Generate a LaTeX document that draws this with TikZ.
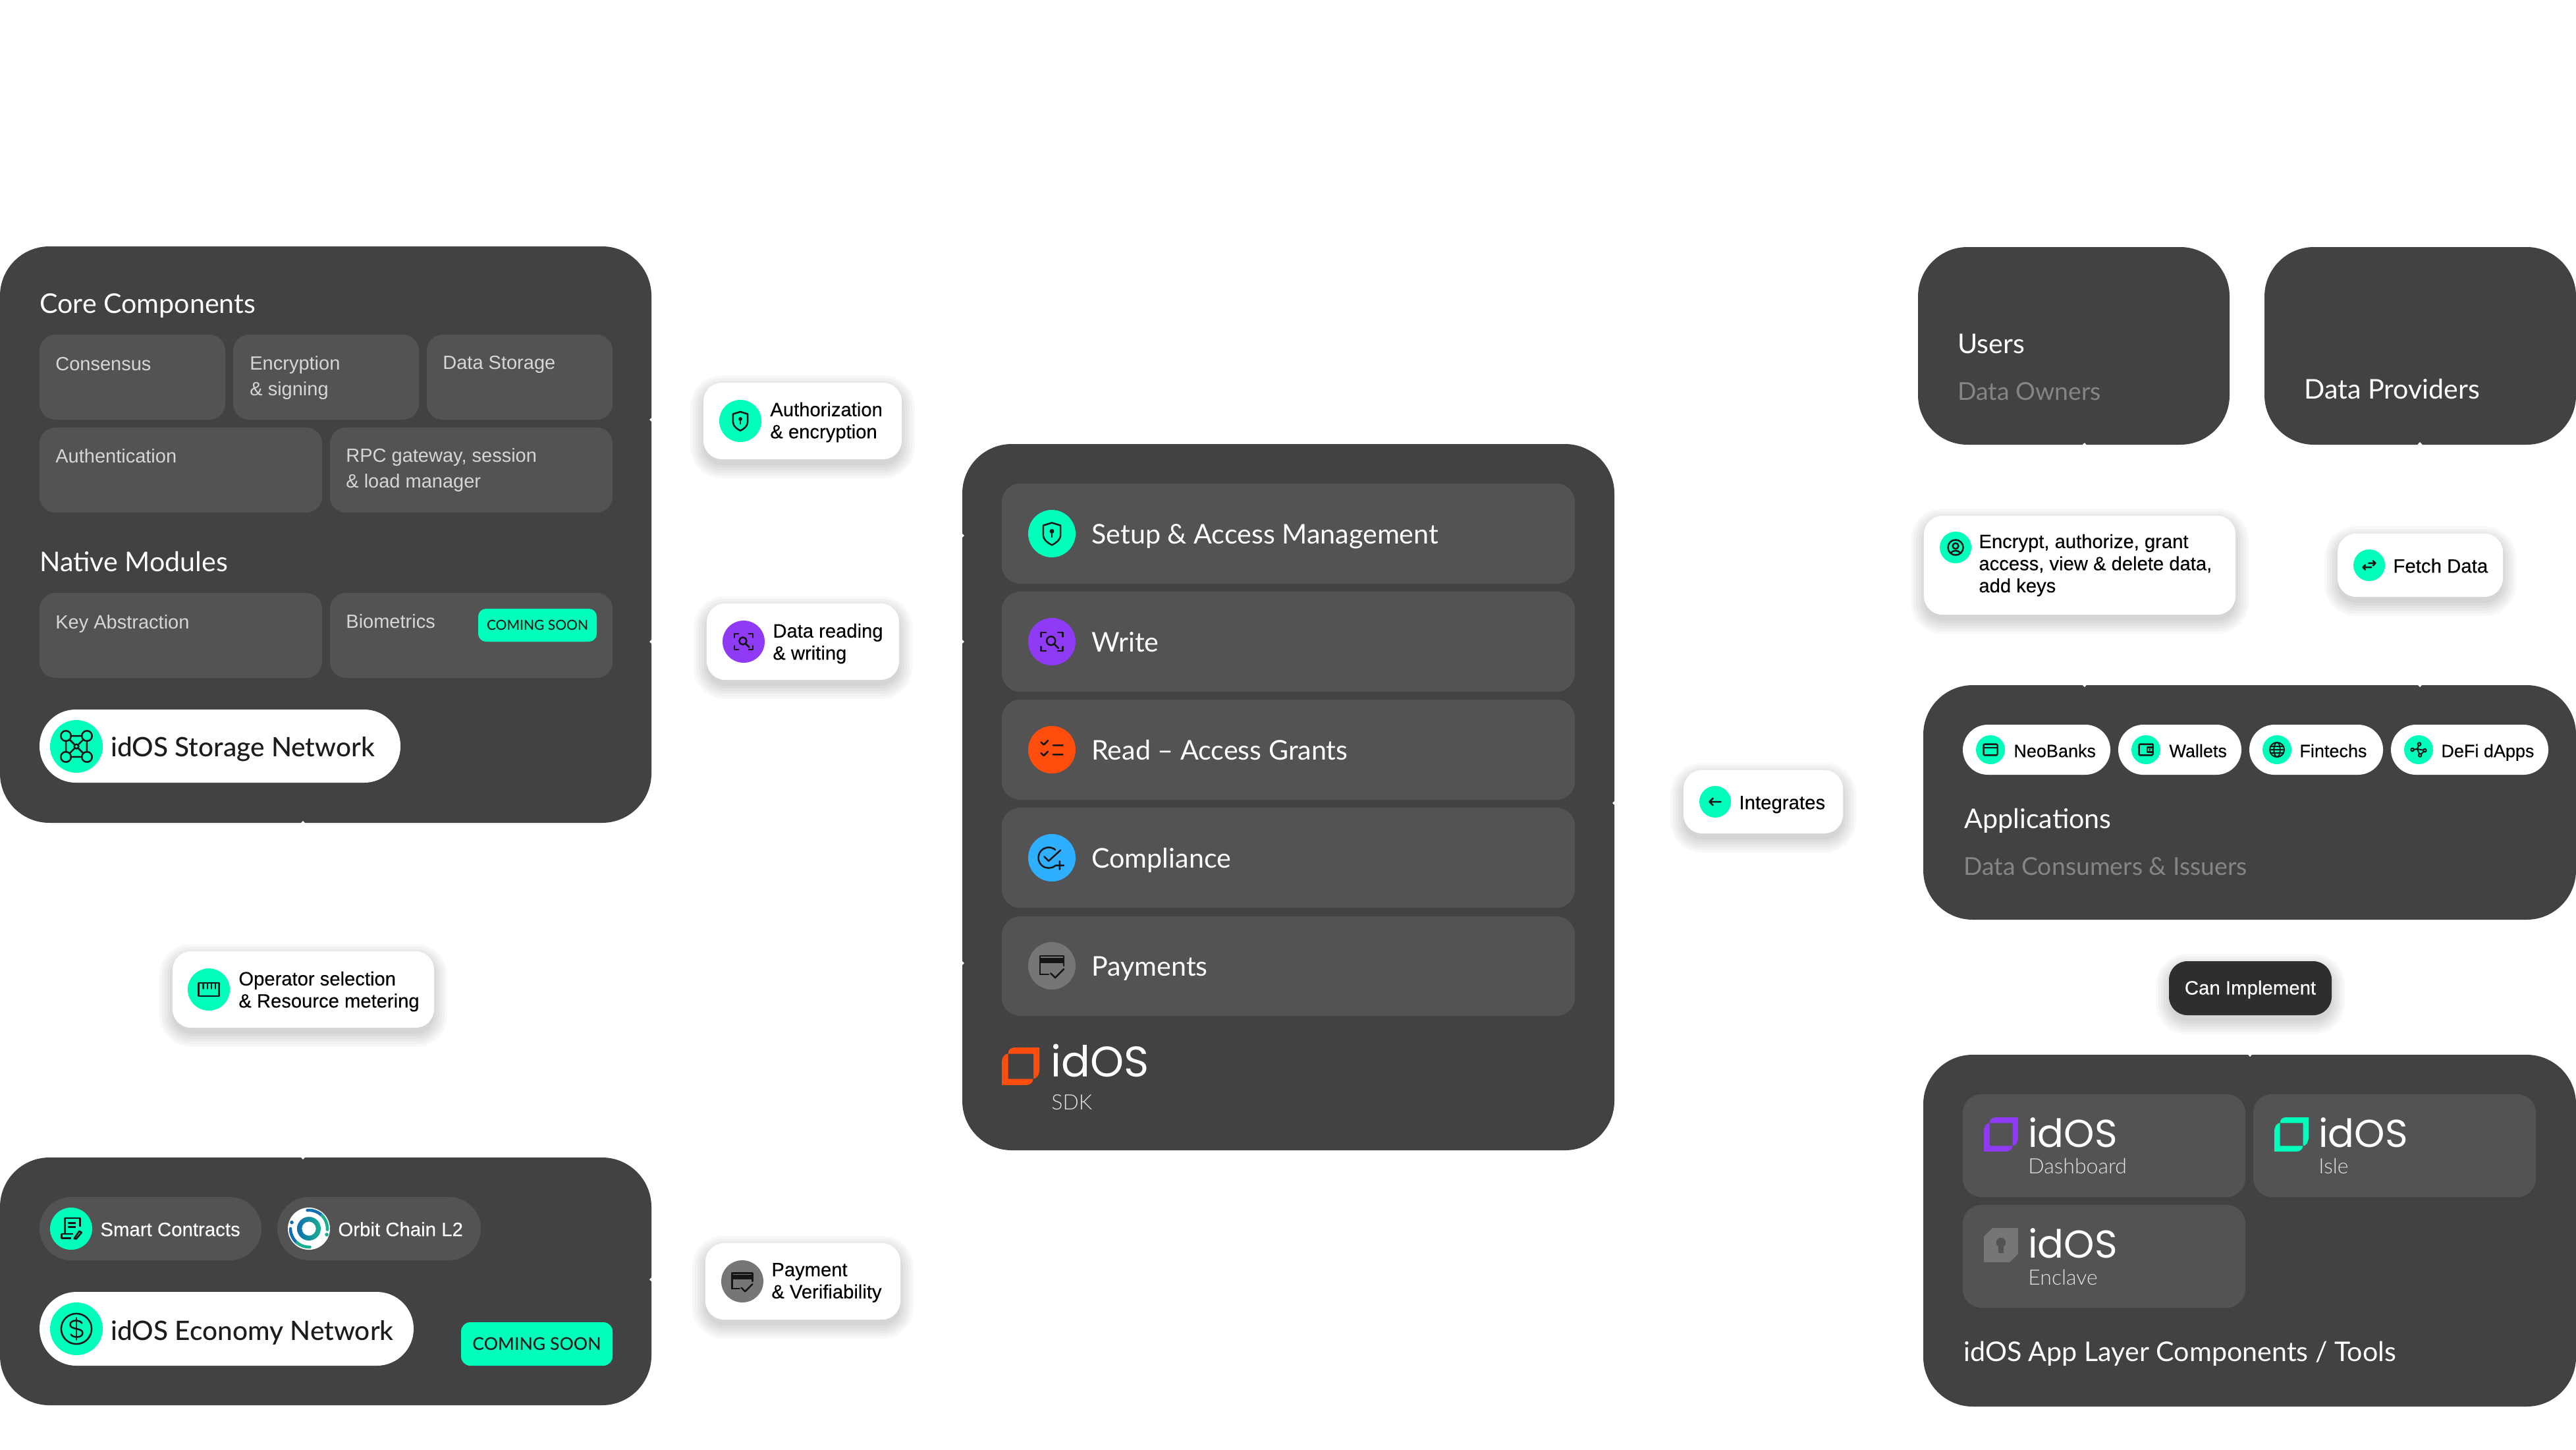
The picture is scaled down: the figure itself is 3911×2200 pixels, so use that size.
\documentclass[tikz,border=0pt]{standalone}
\usepackage{fontspec}
\usetikzlibrary{arrows.meta,backgrounds,calc}
\setmainfont{Liberation Sans}
\newfontfamily\lf{Liberation Sans}[FakeBold=0.25]
\newfontfamily\hf{Lato}
\newfontfamily\hl{Lato Light}
\newfontfamily\hm{Lato Medium}
\newfontfamily\wm{Poppins}
\definecolor{panelc}{HTML}{424242}
\definecolor{boxc}{HTML}{535353}
\definecolor{mint}{HTML}{00FFBB}
\definecolor{violetc}{HTML}{8F3AF5}
\definecolor{orangec}{HTML}{FF4D0D}
\definecolor{bluec}{HTML}{2EAFFF}
\definecolor{grayc}{HTML}{767676}
\definecolor{subc}{HTML}{858585}
\definecolor{icdark}{HTML}{151515}
\definecolor{inkc}{HTML}{1C1C1C}
\definecolor{implc}{HTML}{2E2E2E}
\definecolor{boxtext}{HTML}{D6D6D6}
\definecolor{orbA}{HTML}{0F6FB0}
\definecolor{orbB}{HTML}{18B090}
\pgfdeclarelayer{pan}\pgfdeclarelayer{lnk}
\pgfsetlayers{pan,lnk,main}
\newcommand\fsz[2]{\fontsize{#1}{#2}\selectfont}
% name x1 y1 x2 y2 radius fill
\newcommand\bx[7]{%
  \pgfmathsetmacro\bw{(#4-#2)*.5}\pgfmathsetmacro\bh{(#5-#3)*.5}%
  \pgfmathsetmacro\bcx{(#2+#4)/2}\pgfmathsetmacro\bcy{(#3+#5)/2}%
  \pgfmathsetmacro\br{#6*.5}%
  \node[shape=rectangle,inner sep=0pt,outer sep=0pt,fill=#7,minimum width=\bw pt,minimum height=\bh pt,rounded corners=\br pt] (#1) at (\bcx,\bcy) {};}
\newcommand\shad[5]{%
  \pgfmathsetmacro\br{#5*.5}%
  \foreach \e in {0,4,8,12,16,20}{%
    \fill[black,opacity=.028,rounded corners=\br pt+\e*.5pt] (#1-\e,#2-\e+9) rectangle (#3+\e,#4+\e+9);}}
\newcommand\lb[7]{\shad{#2}{#3}{#4}{#5}{#6}\bx{#1}{#2}{#3}{#4}{#5}{#6}{#7}}
\newcommand\cc[5]{%
  \pgfmathsetmacro\bd{#4}%
  \node[shape=circle,inner sep=0pt,outer sep=0pt,fill=#5,minimum size=\bd pt] (#1) at (#2,#3) {};}
\tikzset{
  x=.5pt,y=-.5pt,
  head/.style={anchor=mid west,inner sep=0pt,text=white,yshift=-5pt,font=\hf\fsz{20.6}{24}},
  pilltext/.style={anchor=mid west,inner sep=0pt,text=inkc,yshift=-5pt,font=\hm\fsz{20.3}{24}},
  sub/.style={anchor=mid west,inner sep=0pt,text=subc,yshift=-5pt,font=\hf\fsz{18.7}{24}},
  boxlab/.style={anchor=west,inner sep=0pt,align=left,text=boxtext,yshift=-1pt,font=\fsz{14.5}{19.5}},
  lab/.style={anchor=west,inner sep=0pt,align=left,text=black,yshift=-1pt,font=\lf\fsz{14.6}{16.8}},
  small/.style={anchor=mid west,inner sep=0pt,text=black,yshift=-3pt,font=\lf\fsz{14.7}{17}},
  badge/.style={inner sep=0pt,text=inkc,font=\hm\fsz{12}{14}},
  wordm/.style={anchor=mid west,inner sep=0pt,text=white,yshift=-7pt,font=\wm\fsz{29.5}{30}},
  wordsub/.style={anchor=mid west,inner sep=0pt,text=boxtext!70!white,yshift=-2.5pt,font=\hl\fsz{16}{18}},
  ic/.style={line width=1.25pt,draw=icdark,line cap=round,line join=round},
  icf/.style={fill=icdark,draw=none},
  hidlink/.style={draw=white,line width=.6pt,-{Triangle[width=4pt,length=2.2pt,fill=white]}},
  hidplain/.style={draw=white,line width=.6pt},
  pics/ishield/.style={code={
    \draw[ic] (0,-10)--(8,-7.5)--(8,1) .. controls (8,6) and (3,9) .. (0,10.5) .. controls (-3,9) and (-8,6) .. (-8,1)--(-8,-7.5)--cycle;
    \fill[icf] (0,-2.2) circle (2.1); \draw[ic] (0,-2)--(0,3.2);}},
  pics/iscan/.style={code={
    \draw[ic] (-10,-4.5)--(-10,-8.5)--(-5.5,-8.5) (5.5,-8.5)--(10,-8.5)--(10,-4.5) (-10,4.5)--(-10,8.5)--(-5.5,8.5) (5.5,8.5)--(10,8.5)--(10,4.5);
    \draw[ic] (-.8,-.8) circle (4); \draw[ic] (2.2,2.2)--(6,6);}},
  pics/ichecks/.style={code={
    \draw[ic] (-10,-7)--(-7.5,-4.5)--(-3.5,-8.5) (-10,3)--(-7.5,5.5)--(-3.5,1.5) (1,-4)--(10,-4) (1,4.5)--(10,4.5);}},
  pics/icomp/.style={code={
    \draw[ic] (3.2,-7.3) arc[start angle=-50,end angle=-310,radius=9.5];
    \draw[ic] (-7,-1)--(-3,3)--(8,-7) (3.5,7)--(11,7) (7.2,3.2)--(7.2,10.8);}},
  pics/ipay/.style={code={
    \draw[ic] (-11,8)--(-11,-9)--(11,-9)--(11,0) (-11,8)--(-3,8);
    \fill[icf] (-11,-7) rectangle (11,-2.5);
    \draw[ic] (-1,7)--(3,11)--(11,3);}},
  pics/iruler/.style={code={
    \draw[ic] (-11,-7) rectangle (11,7);
    \draw[ic] (-6,-7)--(-6,-1) (-1.5,-7)--(-1.5,-1) (3,-7)--(3,-1) (7,-7)--(7,-1);}},
  pics/iuser/.style={code={
    \draw[ic] (0,0) circle (10.5); \draw[ic] (0,-2) circle (4);
    \draw[ic] (-6.5,7.5) .. controls (-4,3.5) and (4,3.5) .. (6.5,7.5);}},
  pics/iswap/.style={code={
    \draw[ic] (-9,3)--(3,3) (-9,3)--(-5.5,6.5) (-9,3)--(-5.5,-.5) (-1,-3)--(9,-3) (9,-3)--(5.5,-6.5) (9,-3)--(5.5,.5);}},
  pics/ileft/.style={code={
    \draw[ic] (9,0)--(-9,0) (-9,0)--(-3.5,-5.5) (-9,0)--(-3.5,5.5);}},
  pics/icard/.style={code={
    \draw[ic,rounded corners=1pt] (-10,-8) rectangle (10,8);
    \draw[ic] (-10,-3)--(10,-3);}},
  pics/iwallet/.style={code={
    \draw[ic,rounded corners=.8pt] (10,-8)--(-10,-8)--(-10,8)--(10,8)--(10,-8);
    \draw[ic] (10,-3.5)--(2,-3.5)--(2,3.5)--(10,3.5);
    \fill[icf] (5.5,0) circle (1.5);}},
  pics/iglobe/.style={code={
    \draw[ic,line width=1pt] (0,0) circle (10.5);
    \draw[ic,line width=1pt] (0,0) ellipse (4.5 and 10.5);
    \draw[ic,line width=1pt] (-10.5,0)--(10.5,0) (-9,-5)--(9,-5) (-9,5)--(9,5);}},
  pics/inet/.style={code={
    \draw[ic,line width=1pt] (-9,0)--(-2,-1)--(1,-8) (-2,-1)--(2,8) (2,8)--(9,1)--(-2,-1);
    \foreach \a/\b in {-9/0,1/-8,2/8,9/1}{\filldraw[ic,line width=1pt,fill=mint] (\a,\b) circle (2.2);}}},
  pics/istorage/.style={code={
    \draw[ic] (-7.6,-3.9)--(-7.6,3.9) (7.6,-3.9)--(7.6,3.9) (-3.9,-7.6)--(3.9,-7.6) (-3.9,7.6)--(3.9,7.6) (-4.9,-4.9)--(-1.2,-1.2) (4.9,-4.9)--(1.2,-1.2) (-4.9,4.9)--(-1.2,1.2) (4.9,4.9)--(1.2,1.2);
    \foreach \a/\b in {-7.6/-7.6,7.6/-7.6,-7.6/7.6,7.6/7.6}{\draw[ic] (\a,\b) circle (3.7);}
    \draw[ic] (0,0) circle (1.6);}},
  pics/icontract/.style={code={
    \draw[ic,line cap=butt] (-6,5)--(-6,-10.3)--(8.6,-10.3)--(8.6,-2) (-3,-5.5)--(4.5,-5.5) (-3,-1.7)--(4.5,-1.7) (-9.5,5)--(2,5) (-9.5,5)--(-9.5,9.3)--(0,9.3);
    \draw[ic] (3,9.6)--(8,2.4)--(10.2,3.8)--(5,10)--cycle;}},
  pics/idollar/.style={code={
    \draw[ic] (0,0) circle (11);
    \draw[ic] (4,-4) .. controls (3,-6.5) and (-4.5,-7) .. (-4.5,-3) .. controls (-4.5,1) and (4.5,-1) .. (4.5,3) .. controls (4.5,7) and (-3,6.5) .. (-4,4);
    \draw[ic] (0,-8)--(0,8);}},
  pics/orbitlogo/.style={code={
    \shade[left color=orbA,right color=orbB,even odd rule] (0,0) circle (18) (0,0) circle (10.7);
    \draw[line width=2.3pt,draw=orbA,line cap=round] (-2.4,-27.9) arc[start angle=-95,end angle=-45,radius=28];
    \draw[line width=2.3pt,draw=orbB,line cap=round] (19.8,-19.8) arc[start angle=-45,end angle=3,radius=28];
    \draw[line width=2.3pt,draw=orbA,line cap=round] (-28,0) arc[start angle=180,end angle=130,radius=28];
    \draw[line width=2.3pt,draw=orbB,line cap=round] (-18,21.4) arc[start angle=130,end angle=87,radius=28];
    \fill[orbA] (-26,-9.5) circle (2.8); \fill[orbB] (27,9) circle (2.8);}},
  pics/idlogo/.style={code={
    \fill[#1,even odd rule] (0,57)--(0,24) .. controls (0,15) and (4,9.5) .. (9.5,9.5) .. controls (9.5,3) and (14,0) .. (20,0)--(57,0)--(57,33) .. controls (57,42) and (53,47.5) .. (47.5,47.5) .. controls (47.5,53) and (43,57) .. (37,57)--cycle
      (9.5,9.5) rectangle (48,47.5);}},
  pics/enclogo/.style={code={
    \fill[grayc] (0,13)--(13,0)--(52,0)--(52,39)--(39,52)--(0,52)--cycle;
    \fill[boxc] (26,22) circle (7.3);
    \fill[boxc] (22,24) rectangle (30,38);}},
}
\begin{document}
\begin{tikzpicture}
\useasboundingbox (0,0) rectangle (3911,2200);
% ------- panels
\begin{pgfonlayer}{pan}
\fill[white] (0,0) rectangle (3911,2200);
\bx{storage}{0}{374}{989}{1249}{75}{panelc}
\bx{economy}{0}{1757}{989}{2133}{75}{panelc}
\bx{sdk}{1461}{674}{2451}{1746}{75}{panelc}
\bx{users}{2912}{375}{3385}{675}{75}{panelc}
\bx{providers}{3438}{375}{3911}{675}{75}{panelc}
\bx{apps}{2920}{1040}{3911}{1396}{75}{panelc}
\bx{layer}{2920}{1601}{3911}{2135}{75}{panelc}
\end{pgfonlayer}
% ------- storage panel
\node[head] (tcore) at (60,460) {Core Components};
\bx{bcons}{60}{508}{342}{637}{24}{boxc}
\bx{benc}{354}{508}{636}{637}{24}{boxc}
\bx{bdata}{648}{508}{930}{637}{24}{boxc}
\bx{bauth}{60}{649}{489}{778}{24}{boxc}
\bx{brpc}{501}{649}{930}{778}{24}{boxc}
\node[boxlab] (tcons) at (84,551) {Consensus};
\node[boxlab] (tenc) at (379,571) {Encryption\\\& signing};
\node[boxlab] (tdata) at (672,551) {Data Storage};
\node[boxlab] (tauth) at (84,690) {Authentication};
\node[boxlab] (trpc) at (525,711) {RPC gateway, session\\\& load manager};
\node[head] (tnative) at (60,852) {Native Modules};
\bx{bkey}{60}{900}{489}{1029}{24}{boxc}
\bx{bbio}{501}{900}{930}{1029}{24}{boxc}
\node[boxlab] (tkey) at (84,945) {Key Abstraction};
\node[boxlab] (tbio) at (525,941) {Biometrics};
\bx{soon1}{726}{924}{906}{974}{12}{mint}
\node[badge,font=\hm\fsz{10.5}{12}] (tsoon1) at (soon1) {COMING SOON};
\bx{pstorage}{60}{1077}{608}{1188}{55}{white}
\cc{cstorage}{116}{1133}{40}{mint}
\pic[scale=2.1] at (116,1133) {istorage};
\node[pilltext] (tstorage) at (168,1133) {idOS Storage Network};
% ------- economy panel
\bx{psmart}{60}{1817}{397}{1913}{48}{boxc}
\cc{csmart}{108}{1865}{32}{mint}
\pic[scale=1.55] at (108,1865) {icontract};
\node[small,text=white] (tsmart) at (152,1865) {Smart Contracts};
\bx{porbit}{421}{1817}{730}{1913}{48}{boxc}
\cc{corbit}{469}{1865}{32}{white}
\pic at (469,1865) {orbitlogo};
\node[small,text=white] (torbit) at (513,1865) {Orbit Chain L2};
\bx{peco}{60}{1961}{628}{2073}{56}{white}
\cc{ceco}{116}{2017}{40}{mint}
\pic[scale=2.1] at (116,2017) {idollar};
\node[pilltext] (teco) at (168,2019) {idOS Economy Network};
\bx{soon2}{700}{2007}{930}{2073}{14}{mint}
\node[badge,font=\hm\fsz{13.3}{16}] (tsoon2) at (soon2) {COMING SOON};
% ------- SDK panel
\bx{r1}{1521}{734}{2391}{886}{28}{boxc}
\bx{r2}{1521}{898}{2391}{1050}{28}{boxc}
\bx{r3}{1521}{1062}{2391}{1214}{28}{boxc}
\bx{r4}{1521}{1226}{2391}{1378}{28}{boxc}
\bx{r5}{1521}{1391}{2391}{1542}{28}{boxc}
\cc{c1}{1597}{810}{36}{mint}
\cc{c2}{1597}{974}{36}{violetc}
\cc{c3}{1597}{1138}{36}{orangec}
\cc{c4}{1597}{1302}{36}{bluec}
\cc{c5}{1597}{1466}{36}{grayc}
\pic[scale=1.65] at (1597,810) {ishield};
\pic[scale=1.65] at (1597,974) {iscan};
\pic[scale=1.65] at (1597,1138) {ichecks};
\pic[scale=1.65] at (1597,1302) {icomp};
\pic[scale=1.65] at (1597,1466) {ipay};
\node[head] (t1) at (1657,810) {Setup \& Access Management};
\node[head] (t2) at (1657,974) {Write};
\node[head] (t3) at (1657,1138) {Read – Access Grants};
\node[head] (t4) at (1657,1302) {Compliance};
\node[head] (t5) at (1657,1466) {Payments};
\pic at (1521,1590) {idlogo=orangec};
\node[wordm,font=\wm\fsz{32.5}{34}] (tsdk) at (1595,1615) {idOS};
\node[wordsub] (tsdk2) at (1596,1674) {SDK};
% ------- right upper panels
\node[head] (tusers) at (2972,521) {Users};
\node[sub] (towners) at (2972,592) {Data Owners};
\node[head] (tprov) at (3498,590) {Data Providers};
\bx{pneo}{2980}{1100}{3204}{1176}{38}{white}
\bx{pwal}{3216}{1100}{3403}{1176}{38}{white}
\bx{pfin}{3415}{1100}{3618}{1176}{38}{white}
\bx{pdefi}{3630}{1100}{3869}{1176}{38}{white}
\cc{cneo}{3022}{1138}{22}{mint}
\cc{cwal}{3258}{1138}{22}{mint}
\cc{cfin}{3457}{1138}{22}{mint}
\cc{cdefi}{3672}{1138}{22}{mint}
\pic[scale=1.05] at (3022,1138) {icard};
\pic[scale=1.05] at (3258,1138) {iwallet};
\pic[scale=1.05] at (3457,1138) {iglobe};
\pic[scale=1.05] at (3672,1138) {inet};
\node[small,font=\lf\fsz{13.5}{16}] (tneo) at (3057,1138) {NeoBanks};
\node[small,font=\lf\fsz{13.5}{16}] (twal) at (3293,1138) {Wallets};
\node[small,font=\lf\fsz{13.5}{16}] (tfin) at (3491,1138) {Fintechs};
\node[small,font=\lf\fsz{13.5}{16}] (tdefi) at (3706,1138) {DeFi dApps};
\node[head] (tappl) at (2982,1242) {Applications};
\node[sub] (tcons2) at (2981,1313) {Data Consumers \& Issuers};
% ------- layer panel
\bx{bdash}{2980}{1661}{3409}{1817}{28}{boxc}
\bx{bisle}{3421}{1661}{3850}{1817}{28}{boxc}
\bx{bencl}{2980}{1829}{3409}{1985}{28}{boxc}
\pic[scale=.91] at (3012,1696) {idlogo=violetc};
\pic[scale=.91] at (3453,1696) {idlogo=mint};
\pic at (3012,1864) {enclogo};
\node[wordm] (wdash) at (3079,1722) {idOS};
\node[wordm] (wisle) at (3520,1722) {idOS};
\node[wordm] (wencl) at (3079,1890) {idOS};
\node[wordsub] (tdash) at (3079,1771) {Dashboard};
\node[wordsub] (tisle) at (3520,1771) {Isle};
\node[wordsub] (tencl) at (3079,1940) {Enclave};
\node[head] (tlayer) at (2981,2051) {idOS App Layer Components / Tools};
% ------- floating labels
\lb{auth}{1068}{581}{1369}{697}{28}{white}
\cc{cauth}{1124}{639}{32}{mint}
\pic[scale=1.4] at (1124,639) {ishield};
\node[lab] (tauthl) at (1169,639) {Authorization\\\& encryption};
\lb{dataL}{1073}{916}{1365}{1032}{28}{white}
\cc{cdataL}{1129}{974}{32}{violetc}
\pic[scale=1.4] at (1129,974) {iscan};
\node[lab] (tdataL) at (1173,975) {Data reading\\\& writing};
\lb{oper}{262}{1444}{659}{1560}{28}{white}
\cc{coper}{317}{1502}{32}{mint}
\pic[scale=1.4] at (317,1502) {iruler};
\node[lab] (toper) at (362,1503) {Operator selection\\\& Resource metering};
\lb{payL}{1071}{1887}{1367}{2003}{28}{white}
\cc{cpayL}{1127}{1945}{32}{grayc}
\pic[scale=1.4] at (1127,1945) {ipay};
\node[lab] (tpayL) at (1171,1945) {Payment\\\& Verifiability};
\lb{integ}{2556}{1169}{2798}{1265}{28}{white}
\cc{cinteg}{2604}{1217}{24}{mint}
\pic[scale=.95] at (2604,1217) {ileft};
\node[small] (tinteg) at (2640,1217) {Integrates};
\lb{encr}{2921}{783}{3394}{933}{28}{white}
\cc{cencr}{2969}{831}{24}{mint}
\pic[scale=1.1] at (2969,831) {iuser};
\node[lab] (tencr) at (3004,856) {Encrypt, authorize, grant\\access, view \& delete data,\\add keys};
\lb{fetch}{3549}{810}{3800}{906}{28}{white}
\cc{cfetch}{3597}{858}{24}{mint}
\pic[scale=1.05] at (3597,858) {iswap};
\node[small] (tfetch) at (3633,858) {Fetch Data};
\lb{impl}{3293}{1459}{3540}{1541}{28}{implc}
\node[small,text=white,anchor=center,yshift=2pt] (timpl) at (impl) {Can Implement};
% ------- white connectors, only their tips show on the panels
\coordinate (nA) at (986,637);
\coordinate (nB) at (986,974);
\coordinate (nC) at (460,1246);
\coordinate (nD) at (460,1760);
\coordinate (nE) at (986,1942);
\coordinate (nF) at (1464,813);
\coordinate (nG) at (1464,974);
\coordinate (nH) at (1464,1462);
\coordinate (nI) at (2448,1219);
\coordinate (nJ) at (3165,672);
\coordinate (nK) at (3674,671);
\coordinate (nL) at (3165,1043);
\coordinate (nM) at (3674,1043);
\coordinate (nN) at (3416,1604);
\begin{pgfonlayer}{lnk}
\draw[hidlink] (auth.west) -- (nA);
\draw[hidlink] (auth.east) -- ++(40,0) |- (nF);
\draw[hidlink] (dataL.west) -- (nB);
\draw[hidlink] (dataL.east) -- (nG);
\draw[hidlink] (oper.north) -- ++(0,-40) -| (nC);
\draw[hidlink] (oper.south) -- ++(0,40) -| (nD);
\draw[hidlink] (payL.west) -- (nE);
\draw[hidlink] (payL.east) -- ++(40,0) |- (nH);
\draw[hidlink] (integ.west) -- (nI);
\draw[hidlink] (encr.north) -- (nJ);
\draw[hidlink] (encr.south) -- (nL);
\draw[hidlink] (fetch.north) -- (nK);
\draw[hidlink] (fetch.south) -- (nM);
\draw[hidlink] (impl.south) -- (nN);
\draw[hidplain] (impl.north) -- (apps.south -| impl.north);
\draw[hidplain] (integ.east) -- (apps.west |- integ.east);
\end{pgfonlayer}
\end{tikzpicture}
\end{document}
